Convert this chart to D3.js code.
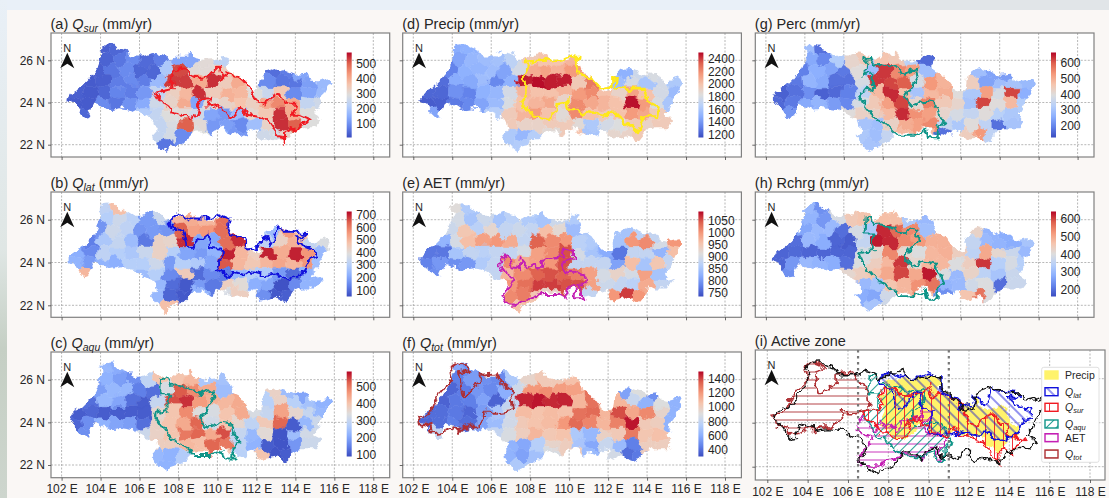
<!DOCTYPE html>
<html>
<head>
<meta charset="utf-8">
<script src="https://cdn.jsdelivr.net/npm/d3@7"></script>
<style>
  html, body { margin: 0; padding: 0; background: #faf7f5; overflow: hidden; }
  text { font-family: "Liberation Sans", Arial, sans-serif; fill: #262626; }
</style>
</head>
<body>
<div id="chart"></div>
<script>
// basin outline, lon / lat
var basinLon = [102.36,102.53,102.96,103.47,103.73,103.90,104.15,103.95,104.24,104.58,104.84,105.26,105.69,106.21,106.72,107.23,107.40,107.66,108.00,108.43,108.68,108.85,109.45,109.97,110.14,110.48,110.56,110.65,111.16,111.59,111.85,112.19,112.27,112.53,113.04,113.56,113.98,114.58,114.67,115.09,115.69,115.81,115.52,115.35,115.18,114.92,115.35,115.01,114.24,113.90,113.56,113.38,112.96,112.27,112.02,112.02,111.59,111.50,111.08,110.65,110.31,109.79,109.71,109.28,108.77,108.17,107.57,107.40,107.06,106.80,106.58,106.89,106.80,106.12,105.61,105.01,104.41,104.15,103.64,103.38,103.44,103.21,102.96,102.70,102.36];
var basinLat = [24.21,24.47,24.68,25.15,25.47,25.86,26.34,26.53,26.78,26.81,26.57,26.42,26.18,26.18,26.37,26.26,25.94,26.02,26.26,26.26,26.42,26.10,25.99,26.02,26.21,26.10,25.71,25.47,25.23,24.68,24.52,24.60,25.07,25.47,25.63,25.47,25.31,25.36,25.07,25.00,25.15,24.92,24.44,24.13,23.73,23.42,23.18,22.78,22.78,22.63,22.23,22.15,22.39,22.23,22.39,22.78,22.63,22.39,22.55,22.47,22.86,22.70,22.39,22.63,22.63,22.07,21.91,21.65,21.91,22.07,22.39,22.70,23.10,23.42,23.65,23.73,23.65,23.81,23.97,23.49,23.30,23.26,23.49,23.89,24.05];

// sub-basin centres, listed south-going band by band
var subLon = [
  104.2,104.8,
  104.3,105.0,105.7,106.4,107.1,108.0,108.7,109.4,110.2,
  103.9,104.6,105.3,106.0,106.7,107.4,108.1,108.8,109.5,110.2,112.9,113.6,114.3,
  103.5,104.2,104.9,105.6,106.3,107.0,107.7,108.4,109.1,109.8,110.5,111.1,112.6,113.3,114.0,114.7,115.5,
  102.8,103.5,104.2,104.9,105.6,106.3,107.0,107.7,108.4,109.1,109.8,110.5,111.2,111.9,112.6,113.3,114.0,114.7,115.4,
  102.7,103.4,104.1,104.8,105.5,106.2,106.9,107.6,108.3,109.0,109.7,110.4,111.1,111.8,112.5,113.2,113.9,114.6,115.2,
  103.2,106.2,106.9,107.6,108.3,109.0,109.7,110.4,111.1,111.8,112.5,113.2,113.9,114.6,
  107.0,107.7,108.4,109.1,109.8,110.5,111.2,111.9,112.6,113.3,114.0,114.7,
  106.9,107.6,108.3,109.0,110.4,111.0,112.3,113.0,113.5,
  107.4
];
var subLat = [
  26.55,26.6,
  26.1,26.0,26.05,25.95,26.1,26.05,26.0,25.95,26.05,
  25.55,25.45,25.6,25.5,25.45,25.55,25.5,25.45,25.55,25.5,25.4,25.45,25.25,
  25.0,25.05,24.95,25.05,25.0,24.95,25.05,24.95,25.0,25.05,24.9,24.95,24.95,25.05,24.9,24.85,24.95,
  24.4,24.5,24.45,24.4,24.5,24.45,24.4,24.5,24.45,24.4,24.5,24.4,24.45,24.5,24.4,24.45,24.4,24.5,24.45,
  23.95,24.0,23.9,24.0,23.95,23.9,24.0,23.95,23.9,24.0,23.95,23.9,24.0,23.9,23.95,24.0,23.9,23.95,24.0,
  23.45,23.5,23.45,23.4,23.5,23.45,23.4,23.5,23.45,23.4,23.5,23.45,23.4,23.45,
  22.95,23.0,22.9,22.95,23.0,22.9,22.95,23.0,22.9,22.95,22.95,22.95,
  22.45,22.5,22.4,22.6,22.6,22.55,22.45,22.5,22.45,
  21.95
];

// values per sub-basin, same order as subLon / subLat
var qsurValues = [
  30,40,
  35,60,90,45,70,130,130,300,230,
  30,60,90,40,40,200,520,300,300,340,50,70,130,
  25,30,70,90,70,170,530,530,400,540,340,400,90,60,60,120,170,
  30,25,40,80,70,110,240,330,380,540,340,390,380,290,250,350,90,130,170,
  25,25,90,60,100,140,260,320,400,130,300,320,360,330,400,450,400,240,260,
  40,210,240,290,300,260,130,110,170,310,350,540,400,290,
  240,280,500,300,110,120,90,180,320,540,500,290,
  240,270,90,290,150,110,260,270,320,
  60
];
var qlatValues = [
  320,480,
  300,350,310,180,340,500,520,500,620,
  170,350,320,170,180,170,640,540,560,620,250,550,480,
  130,280,330,250,120,430,420,690,200,200,620,690,320,430,510,330,380,
  220,150,320,300,280,340,430,300,200,180,230,700,500,440,700,520,700,560,240,
  230,180,230,220,300,300,350,180,300,290,200,650,500,460,500,530,500,560,260,
  500,250,300,150,450,100,150,130,240,300,290,180,100,230,
  240,100,70,180,120,440,400,220,200,60,150,230,
  240,90,70,230,370,440,160,70,80,
  480
];
var qaquValues = [
  230,210,
  220,190,170,290,400,400,420,260,250,
  190,230,230,150,130,330,530,480,440,240,370,240,200,
  130,230,200,130,110,300,540,560,460,430,420,440,280,370,280,250,220,
  110,120,110,110,110,110,360,400,480,340,330,400,440,330,300,450,360,300,230,
  120,170,220,200,190,130,370,400,440,520,320,400,360,290,390,520,110,230,310,
  170,310,370,400,500,520,440,540,300,230,350,100,240,320,
  380,380,420,410,520,500,290,220,110,100,180,310,
  230,220,270,410,400,280,400,100,110,
  220
];
var precipValues = [
  1480,1500,
  1450,1530,1560,1580,1680,1950,1990,1990,2050,
  1330,1500,1520,1560,1450,1780,2080,2120,2060,2150,1500,1750,1800,
  1260,1480,1470,1560,1350,1500,2450,2480,2450,2450,1960,2250,1560,1780,1600,1780,1620,
  1240,1240,1380,1330,1500,1530,1780,2050,2000,2000,2050,2150,2200,2000,1900,2120,2000,1780,1550,
  1210,1220,1300,1350,1450,1550,1800,2000,2050,2100,1900,2200,2100,2050,2000,2470,2150,1800,1600,
  1450,1650,1950,2050,2150,2000,1850,2200,2000,1950,2000,2150,2100,1950,
  1950,1900,1900,1950,1950,1850,1620,1780,1820,1950,1900,1950,
  1620,1530,1650,1850,1990,1600,1880,1900,1960,
  1640
];
var aetValues = [
  915,860,
  900,850,890,850,870,860,850,890,860,
  890,950,870,925,880,890,880,960,920,840,850,870,880,
  830,900,960,990,1000,980,880,1040,1010,1000,870,860,850,1000,1010,900,1000,
  770,770,850,880,870,880,880,900,990,1010,1050,900,850,820,770,880,880,830,960,
  780,800,790,800,860,880,1010,980,990,1000,1050,880,880,880,810,960,850,950,880,
  790,880,970,1010,1040,1050,1040,1020,990,900,930,900,990,850,
  1000,1030,1060,1060,1050,1050,990,890,880,870,980,880,
  1010,1020,950,930,1050,880,1000,1060,1000,
  960
];
var qtotValues = [
  580,500,
  450,540,500,480,720,960,1020,1020,1060,
  380,440,520,480,600,840,1200,1230,1180,1170,560,900,500,
  370,430,450,560,370,800,1450,1470,1440,1450,1100,1300,1100,820,620,900,620,
  400,400,430,380,540,700,850,1080,1050,1080,1060,1300,1320,1100,1380,1150,1240,960,620,
  380,400,450,400,560,660,850,1020,1050,1080,1200,1320,1250,1100,1260,1470,1020,1000,620,
  800,800,880,1000,1100,1030,1050,720,640,980,1020,1280,1040,1060,
  620,580,750,960,1000,700,580,820,650,450,1000,1000,
  620,560,680,880,1000,650,860,400,430,
  720
];
var percValues = [
  290,170,
  250,200,320,420,450,460,450,330,160,
  190,260,240,180,400,290,630,550,520,290,290,240,230,
  180,270,250,170,170,380,630,620,600,380,530,490,440,240,290,300,280,
  150,170,210,150,160,190,340,480,640,470,300,480,500,400,310,520,380,620,260,
  160,180,250,270,230,200,380,450,520,620,420,560,450,420,300,620,400,480,320,
  220,400,430,430,480,640,540,520,420,380,350,400,330,310,
  300,290,430,500,520,550,350,310,400,340,170,300,
  310,290,350,480,480,170,440,530,340,
  300
];
var rchrgValues = [
  300,240,
  290,250,390,450,460,470,470,330,300,
  270,300,300,200,390,330,620,570,540,310,430,290,280,
  200,300,280,190,180,360,630,620,540,520,490,490,360,300,290,280,320,
  190,195,190,190,190,190,390,420,540,420,400,480,490,440,350,500,420,370,300,
  190,250,300,290,280,200,400,440,480,610,420,480,480,400,440,610,340,390,340,
  240,420,440,460,500,600,500,630,400,300,430,350,320,370,
  300,320,460,480,530,560,290,300,380,400,200,370,
  280,270,380,480,470,240,460,560,400,
  320
];

// active zone outlines, lon / lat
var qsurLon = [106.75,107.06,107.57,107.74,107.57,107.74,108.26,108.60,108.94,109.54,109.79,110.05,110.22,110.48,110.99,111.33,111.68,111.93,112.36,112.87,113.30,113.56,113.98,113.86,114.24,114.84,114.32,114.07,113.73,113.47,113.47,113.04,112.70,112.02,111.50,111.25,110.82,110.31,110.05,109.54,109.62,109.11,108.94,108.60,108.17,107.74,107.49,106.97];
var qsurLat = [24.47,24.52,24.60,24.84,25.15,25.55,25.63,25.31,25.15,25.23,25.47,25.71,25.07,25.42,25.20,25.07,24.68,24.13,23.89,24.28,24.44,23.89,23.89,23.42,23.42,23.18,22.94,22.63,22.86,22.63,22.15,22.63,23.10,23.34,23.42,23.81,23.34,23.49,23.89,23.81,24.21,24.13,23.42,23.21,23.42,23.49,23.81,24.13];
var precipLon = [107.60,107.77,107.86,108.80,109.65,110.08,110.51,110.42,110.68,111.11,111.54,112.22,112.22,112.48,112.43,113.08,113.25,113.85,114.02,114.53,114.45,113.85,113.73,113.51,113.16,112.82,112.57,111.88,111.20,110.68,110.00,109.91,109.48,109.31,108.80,108.11,107.86,107.51,107.77,107.74];
var precipLat = [25.20,25.36,25.94,25.99,26.05,26.21,26.15,25.47,25.31,25.20,24.73,24.79,25.15,25.11,24.73,24.60,24.68,24.68,24.05,23.81,23.34,23.34,23.10,22.63,22.86,23.02,23.42,23.42,23.57,23.42,23.73,24.05,23.97,23.57,23.18,23.42,23.65,23.97,24.28,24.92];
var qlatLon = [107.49,107.91,108.60,109.45,110.05,110.56,110.56,110.74,111.42,111.50,112.19,112.27,112.53,112.62,112.96,113.13,113.38,113.81,114.50,114.32,113.98,114.32,115.01,115.09,114.67,114.50,113.90,113.64,112.96,112.36,111.68,111.42,110.82,110.65,109.97,110.22,110.22,109.62,109.54,108.94,108.60,108.34,108.17,107.57];
var qlatLat = [25.83,26.33,26.06,26.06,26.26,26.06,25.60,25.28,25.13,24.66,24.74,25.21,25.13,24.82,25.05,25.67,25.44,25.44,25.33,25.13,25.13,24.82,24.58,24.24,24.12,23.57,23.34,23.18,23.49,23.42,23.57,23.42,23.57,23.34,23.73,24.19,24.58,24.66,25.36,24.97,24.58,24.82,25.52,25.70];
var qaquLon = [107.11,107.35,107.49,107.91,108.60,109.11,109.71,109.79,109.37,109.11,109.54,110.14,110.74,110.91,111.16,110.82,110.82,110.34,110.22,109.62,108.77,108.26,107.74,107.23,106.80,106.89,107.49,107.49,107.57,107.06];
var qaquLat = [26.06,26.11,25.75,25.78,25.59,25.36,25.55,25.13,24.58,24.19,23.80,24.03,23.95,23.41,23.02,22.86,22.31,22.31,22.70,22.47,22.47,22.94,23.17,23.72,24.27,24.50,24.58,24.97,25.36,25.36];
var aetLon = [106.40,106.74,107.00,107.09,107.43,107.51,107.86,108.28,108.46,108.71,108.63,109.65,109.74,110.20,110.20,109.65,109.83,110.34,110.85,110.77,110.51,110.72,110.34,110.34,110.00,109.77,109.48,108.63,108.11,107.68,107.43,106.74,106.57,107.00,107.17,106.74,106.49];
var aetLat = [23.88,24.35,24.12,23.73,23.70,24.12,23.73,23.93,23.65,23.88,24.12,24.24,24.61,24.61,24.15,24.04,23.49,23.60,23.34,22.95,22.84,22.33,22.33,22.87,22.87,22.40,22.53,22.53,22.33,22.17,22.02,22.05,22.48,22.95,23.34,23.49,23.65];
var qtotLon = [102.29,102.80,103.06,103.58,104.00,103.87,104.26,104.60,104.86,104.35,104.52,104.77,105.12,105.46,105.46,106.23,106.57,107.00,107.12,106.49,106.14,105.63,105.68,105.20,104.60,104.35,104.09,103.58,103.06,102.98,102.38];
var qtotLat = [24.34,24.42,24.97,25.59,25.98,26.53,26.81,26.69,26.42,26.30,25.28,25.28,25.67,25.83,26.22,26.30,25.83,25.52,24.58,24.50,24.50,24.50,24.23,23.80,23.80,23.56,23.80,23.56,23.48,23.80,23.95];

// axis ticks and labels
var lonTicks = [102,104,106,108,110,112,114,116,118];
var latTicks = [22,24,26];
var activeZoneBounds = [106.5, 111];

// coolwarm colour stops
var coolwarm = ["#3b4cc0","#6282ea","#8db0fe","#b8d0f9","#dddddd","#f5c4ad","#f4987a","#de604d","#b40426"];
var coolwarmScale = d3.scaleLinear().domain(d3.range(9).map(d => d / 8)).range(coolwarm);

var polygonOf = (lons, lats) => lons.map((d, i) => [d, lats[i]]);
var basin = polygonOf(basinLon, basinLat);
var zones = {
  qsur: {poly: polygonOf(qsurLon, qsurLat), color: "#f01a22"},
  precip: {poly: polygonOf(precipLon, precipLat), color: "#ffe81a"},
  qlat: {poly: polygonOf(qlatLon, qlatLat), color: "#1010dc"},
  qaqu: {poly: polygonOf(qaquLon, qaquLat), color: "#0f9488"},
  aet: {poly: polygonOf(aetLon, aetLat), color: "#c41fb4"},
  qtot: {poly: polygonOf(qtotLon, qtotLat), color: "#ad2f33"}
};

// one entry per map panel
var panels = [
  {id: "a", col: 0, row: 0, pre: "(a) ", sym: "Q", sub: "sur", name: "", values: qsurValues, domain: [5, 573], ticks: d3.range(100, 501, 100), zone: "qsur"},
  {id: "b", col: 0, row: 1, pre: "(b) ", sym: "Q", sub: "lat", name: "", values: qlatValues, domain: [50, 727], ticks: d3.range(100, 701, 100), zone: "qlat"},
  {id: "c", col: 0, row: 2, pre: "(c) ", sym: "Q", sub: "aqu", name: "", values: qaquValues, domain: [90, 590], ticks: d3.range(100, 501, 100), zone: "qaqu"},
  {id: "d", col: 1, row: 0, pre: "(d) ", sym: "", sub: "", name: "Precip", values: precipValues, domain: [1158, 2494], ticks: d3.range(1200, 2401, 200), zone: "precip"},
  {id: "e", col: 1, row: 1, pre: "(e) ", sym: "", sub: "", name: "AET", values: aetValues, domain: [735, 1087], ticks: d3.range(750, 1051, 50), zone: "aet"},
  {id: "f", col: 1, row: 2, pre: "(f) ", sym: "Q", sub: "tot", name: "", values: qtotValues, domain: [307, 1498], ticks: d3.range(400, 1401, 200), zone: "qtot"},
  {id: "g", col: 2, row: 0, pre: "(g) ", sym: "", sub: "", name: "Perc", values: percValues, domain: [123, 668], ticks: d3.range(200, 601, 100), zone: "qaqu"},
  {id: "h", col: 2, row: 1, pre: "(h) ", sym: "", sub: "", name: "Rchrg", values: rchrgValues, domain: [162, 643], ticks: d3.range(200, 601, 100), zone: "qaqu"}
];

// layout
var svgWidth = 1109;
var svgHeight = 498;
var colLeft = [51, 402.7, 755.3];
var rowTop = [33, 192, 352];
var rowHeight = [124, 125.3, 125.7];
var lat26 = [60.3, 219.7, 379.7];
var lat22 = [144.7, 305.3, 465];
var axisWidth = 338.7;

var svg = d3.select("#chart").append("svg")
  .attr("width", svgWidth)
  .attr("height", svgHeight)
  .style("display", "block");

var defs = svg.append("defs");

// rough edges for the sub-basins and a soft look, same as the scanned picture
var wobble = defs.append("filter")
  .attr("id", "wobble")
  .attr("filterUnits", "userSpaceOnUse")
  .attr("x", 0).attr("y", 0).attr("width", svgWidth).attr("height", svgHeight)
  .attr("color-interpolation-filters", "sRGB");
wobble.append("feTurbulence")
  .attr("type", "fractalNoise").attr("baseFrequency", 0.11).attr("numOctaves", 3).attr("seed", 4).attr("result", "noise");
wobble.append("feDisplacementMap")
  .attr("in", "SourceGraphic").attr("in2", "noise").attr("scale", 10)
  .attr("xChannelSelector", "R").attr("yChannelSelector", "G").attr("result", "moved");
wobble.append("feGaussianBlur").attr("in", "moved").attr("stdDeviation", 0.35);

// page backdrop, the picture was cropped from a slide
var leftFade = defs.append("linearGradient").attr("id", "leftFade").attr("x1", 0).attr("x2", 0).attr("y1", 0).attr("y2", 1);
leftFade.append("stop").attr("offset", "0%").attr("stop-color", "#e9f0f7");
leftFade.append("stop").attr("offset", "50%").attr("stop-color", "#dfe6e4");
leftFade.append("stop").attr("offset", "70%").attr("stop-color", "#c5cfc4");
leftFade.append("stop").attr("offset", "100%").attr("stop-color", "#cdd5cd");
svg.append("rect").attr("width", svgWidth).attr("height", 10).attr("fill", "#e9f0f8");
svg.append("rect").attr("x", 880).attr("width", 229).attr("height", 10).attr("fill", "#e1e5e8");
svg.append("rect").attr("width", 7).attr("height", svgHeight).attr("fill", "url(#leftFade)");

// hatch patterns for the last panel
function addHatch(id, color, rotate, gap) {
  var p = defs.append("pattern")
    .attr("id", id)
    .attr("patternUnits", "userSpaceOnUse")
    .attr("width", gap).attr("height", gap)
    .attr("patternTransform", `rotate(${rotate})`);
  p.append("line")
    .attr("x1", 0).attr("x2", gap).attr("y1", gap / 2).attr("y2", gap / 2)
    .attr("stroke", color).attr("stroke-width", 0.9);
}
addHatch("hatch-qlat", zones.qlat.color, 45, 8);
addHatch("hatch-qsur", zones.qsur.color, 90, 9);
addHatch("hatch-qaqu", zones.qaqu.color, -45, 7);
addHatch("hatch-aet", zones.aet.color, 0, 8);
addHatch("hatch-qtot", zones.qtot.color, 0, 8);

function drawFrame(g, left, top, width, height, x, y) {
  // grid
  g.append("g").selectAll("line").data(lonTicks).enter().append("line")
    .attr("x1", d => x(d)).attr("x2", d => x(d))
    .attr("y1", top).attr("y2", top + height)
    .attr("stroke", "#9a9a9a").attr("stroke-width", 0.7).attr("stroke-dasharray", "2,1.5");
  g.append("g").selectAll("line").data(latTicks).enter().append("line")
    .attr("x1", left).attr("x2", left + width)
    .attr("y1", d => y(d)).attr("y2", d => y(d))
    .attr("stroke", "#9a9a9a").attr("stroke-width", 0.7).attr("stroke-dasharray", "2,1.5");
}

function drawAxes(g, left, top, width, height, x, y, col, row) {
  g.append("rect")
    .attr("x", left).attr("y", top).attr("width", width).attr("height", height)
    .attr("fill", "none").attr("stroke", "#808080").attr("stroke-width", 1.2);

  var bottomAxis = d3.axisBottom(x).tickValues(lonTicks).tickSize(3).tickPadding(4)
    .tickFormat(d => row === 2 ? d + " E" : "");
  var xAxisG = g.append("g").attr("transform", `translate(0, ${top + height})`).call(bottomAxis);
  xAxisG.select(".domain").remove();
  xAxisG.selectAll("line").attr("stroke", "#444").attr("stroke-width", 0.8);
  xAxisG.selectAll("text").attr("font-size", 12).attr("fill", "#262626");

  var leftAxis = d3.axisLeft(y).tickValues(latTicks).tickSize(3).tickPadding(3)
    .tickFormat(d => col === 0 ? d + " N" : "");
  var yAxisG = g.append("g").attr("transform", `translate(${left}, 0)`).call(leftAxis);
  yAxisG.select(".domain").remove();
  yAxisG.selectAll("line").attr("stroke", "#444").attr("stroke-width", 0.8);
  yAxisG.selectAll("text").attr("font-size", 12).attr("fill", "#262626");

  // north arrow
  var nx = left + 16.3;
  var ny = top + 19.7;
  g.append("text").attr("x", nx).attr("y", ny - 0.5).attr("text-anchor", "middle").attr("font-size", 11).text("N");
  g.append("path")
    .attr("d", `M${nx},${ny} L${nx + 7},${ny + 15.5} L${nx},${ny + 11} L${nx - 7},${ny + 15.5} Z`)
    .attr("fill", "#111");
}

function drawTitle(g, left, top, d) {
  var t = g.append("text").attr("x", left - 0.5).attr("y", top - 4).attr("font-size", 14.5);
  t.append("tspan").text(d.pre);
  if (d.sym) {
    t.append("tspan").attr("font-style", "italic").text(d.sym);
    t.append("tspan").attr("font-style", "italic").attr("font-size", 10.5).attr("dy", 3).text(d.sub);
    t.append("tspan").attr("dy", -3).text(" (mm/yr)");
  } else {
    t.append("tspan").text(d.name + " (mm/yr)");
  }
}

panels.forEach(function(d) {
  var left = colLeft[d.col];
  var top = rowTop[d.row];
  var height = rowHeight[d.row];
  var x = d3.scaleLinear().domain([102, 118]).range([left + 10.6, left + 322.3]);
  var y = d3.scaleLinear().domain([22, 26]).range([lat22[d.row], lat26[d.row]]);
  var color = d3.scaleLinear().domain(d.domain).range([0, 1]).clamp(true);
  var line = d3.line().x(p => x(p[0])).y(p => y(p[1])).curve(d3.curveLinearClosed);

  var g = svg.append("g");
  g.append("rect").attr("x", left).attr("y", top).attr("width", axisWidth).attr("height", height).attr("fill", "#fff");
  drawFrame(g, left, top, axisWidth, height, x, y);

  // sub-basin cells, cut to the basin
  defs.append("clipPath").attr("id", "basin-" + d.id).append("path").attr("d", line(basin));
  var centres = subLon.map((lon, i) => [x(lon), y(subLat[i])]);
  var voronoi = d3.Delaunay.from(centres).voronoi([left, top, left + axisWidth, top + height]);

  var map = g.append("g").attr("filter", "url(#wobble)");
  map.append("g").attr("clip-path", `url(#basin-${d.id})`)
    .selectAll("path").data(d.values).enter().append("path")
    .attr("d", (v, i) => voronoi.renderCell(i))
    .attr("fill", v => coolwarmScale(color(v)))
    .attr("stroke", v => coolwarmScale(color(v)))
    .attr("stroke-width", 0.5);
  map.append("path")
    .attr("d", line(zones[d.zone].poly))
    .attr("fill", "none")
    .attr("stroke", zones[d.zone].color)
    .attr("stroke-width", d.zone === "precip" ? 2.6 : 2);

  drawAxes(g, left, top, axisWidth, height, x, y, d.col, d.row);
  drawTitle(g, left, top, d);

  // colour bar
  var gradId = "bar-" + d.id;
  var grad = defs.append("linearGradient").attr("id", gradId).attr("x1", 0).attr("x2", 0).attr("y1", 1).attr("y2", 0);
  coolwarm.forEach(function(c, i) {
    grad.append("stop").attr("offset", (i / 8 * 100) + "%").attr("stop-color", c);
  });
  var barTop = top + 19.5;
  var barScale = d3.scaleLinear().domain(d.domain).range([barTop + 85, barTop]);
  g.append("rect")
    .attr("x", left + 295.7).attr("y", barTop).attr("width", 5).attr("height", 85)
    .attr("fill", `url(#${gradId})`);
  var barAxis = g.append("g")
    .attr("transform", `translate(${left + 300.7}, 0)`)
    .call(d3.axisRight(barScale).tickValues(d.ticks).tickSize(0).tickPadding(4.5).tickFormat(d3.format("d")));
  barAxis.select(".domain").remove();
  barAxis.selectAll("text").attr("font-size", 12).attr("fill", "#262626");
});

// (i) active zone
var iLeft = 755.3, iTop = 350, iWidth = 349.7, iHeight = 130;
var ix = d3.scaleLinear().domain([102, 118]).range([767.3, 1090]);
var iy = d3.scaleLinear().domain([22, 26]).range([466.7, 378.7]);
var iLine = d3.line().x(p => ix(p[0])).y(p => iy(p[1])).curve(d3.curveLinearClosed);

var gi = svg.append("g");
gi.append("rect").attr("x", iLeft).attr("y", iTop).attr("width", iWidth).attr("height", iHeight).attr("fill", "#fff");
drawFrame(gi, iLeft, iTop, iWidth, iHeight, ix, iy);

// the wobble goes on a mask so that the hatch lines themselves stay straight
function addZoneFill(key, fill) {
  var m = defs.append("mask")
    .attr("id", "mask-" + key)
    .attr("maskUnits", "userSpaceOnUse")
    .attr("x", 0).attr("y", 0).attr("width", svgWidth).attr("height", svgHeight);
  m.append("path").attr("d", iLine(zones[key].poly)).attr("fill", "#fff").attr("filter", "url(#wobble)");
  gi.append("rect")
    .attr("x", iLeft).attr("y", iTop).attr("width", iWidth).attr("height", iHeight)
    .attr("fill", fill)
    .attr("mask", `url(#mask-${key})`);
}
addZoneFill("precip", "#fff36b");
["qtot", "aet", "qaqu", "qsur", "qlat"].forEach(z => addZoneFill(z, `url(#hatch-${z})`));

var mapI = gi.append("g").attr("filter", "url(#wobble)");
["qtot", "aet", "qaqu", "qsur", "qlat"].forEach(function(z) {
  mapI.append("path")
    .attr("d", iLine(zones[z].poly))
    .attr("fill", "none")
    .attr("stroke", zones[z].color)
    .attr("stroke-width", 1.6);
});
mapI.append("path").attr("d", iLine(basin)).attr("fill", "none").attr("stroke", "#111").attr("stroke-width", 1.4);

gi.selectAll(".zoneBound").data(activeZoneBounds).enter().append("line")
  .attr("class", "zoneBound")
  .attr("x1", d => ix(d)).attr("x2", d => ix(d))
  .attr("y1", iTop).attr("y2", iTop + iHeight)
  .attr("stroke", "#777").attr("stroke-width", 2.2).attr("stroke-dasharray", "2.5,3.5");

drawAxes(gi, iLeft, iTop, iWidth, iHeight, ix, iy, 2, 2);
gi.append("text").attr("x", iLeft - 0.5).attr("y", iTop - 4).attr("font-size", 14.5).text("(i) Active zone");

// legend
var legendItems = [
  {key: "precip", label: "Precip", sub: ""},
  {key: "qlat", label: "Q", sub: "lat"},
  {key: "qsur", label: "Q", sub: "sur"},
  {key: "qaqu", label: "Q", sub: "aqu"},
  {key: "aet", label: "AET", sub: ""},
  {key: "qtot", label: "Q", sub: "tot"}
];
var legendRowY = [375, 391.7, 407.3, 424, 437.7, 454];
var legend = gi.append("g");
legend.append("rect")
  .attr("x", 1041.7).attr("y", 367.3).attr("width", 57.3).attr("height", 95).attr("rx", 2)
  .attr("fill", "#fff").attr("stroke", "#d8d8d8").attr("stroke-width", 0.8);
legendItems.forEach(function(d, i) {
  var row = legend.append("g").attr("transform", `translate(1045, ${legendRowY[i]})`);
  var isPrecip = d.key === "precip";
  row.append("rect")
    .attr("x", 0).attr("y", -4).attr("width", 13).attr("height", 8)
    .attr("fill", isPrecip ? "#fff36b" : `url(#hatch-${d.key})`)
    .attr("stroke", isPrecip ? "#fff36b" : zones[d.key].color)
    .attr("stroke-width", 1.4);
  var t = row.append("text").attr("x", 20).attr("y", 3.8).attr("font-size", 10.5);
  if (d.sub) {
    t.append("tspan").attr("font-style", "italic").text(d.label);
    t.append("tspan").attr("font-style", "italic").attr("font-size", 7.5).attr("dy", 2).text(d.sub);
  } else {
    t.text(d.label);
  }
});
</script>
</body>
</html>
